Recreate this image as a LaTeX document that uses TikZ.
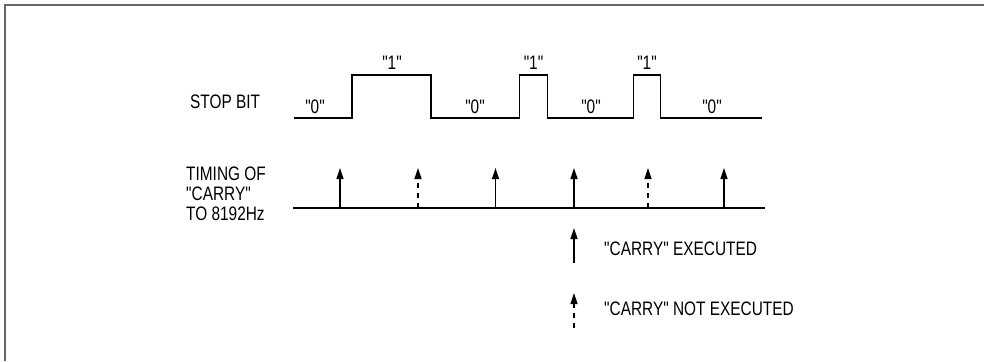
\documentclass[tikz,border=0pt]{standalone}
\usepackage{fontspec}
\setmainfont[FakeStretch=0.79, Ligatures=TeXOff]{Liberation Sans}
\usepackage{tikz}
\usetikzlibrary{positioning}
\usetikzlibrary{arrows.meta}

\tikzset{
	frame/.style={line width=2pt, draw=black!60},
	wave/.style={line width=1.6pt, line join=miter},
	carry/.style={line width=1.3pt, -{Triangle[length=11pt,width=7pt]}},
	skipped/.style={carry, dash pattern=on 5pt off 5pt},
	lbl/.style={inner sep=0pt, font=\fontsize{19.5}{20}\selectfont},
}

\begin{document}
\begin{tikzpicture}[x=1pt, y=-1pt]

	% ------------------------------------------------
	% Ensure the dimensions of graphic are appropriate
	\useasboundingbox (0,0) rectangle (984,361);

	% ------------------------------------------------
	% Frame (open to the right and bottom)
	\coordinate (FrameBot)    at (5,361);
	\coordinate (FrameCorner) at (5,5);
	\coordinate (FrameEnd)    at (984,5);
	\draw[frame] (FrameBot) -- (FrameCorner) -- (FrameEnd);

	% ------------------------------------------------
	% Stop bit waveform
	\coordinate (Beg) at (294,118);
	\coordinate (R1)  at (352,118);
	\coordinate (F1)  at (431,118);
	\coordinate (R2)  at (519.5,118);
	\coordinate (F2)  at (547.5,118);
	\coordinate (R3)  at (633.5,118);
	\coordinate (F3)  at (660.5,118);
	\coordinate (End) at (762,118);

	\draw[wave] (Beg) -- (R1) -- ++(0,-43) -| (F1)
		-- (R2) -- ++(0,-43) -| (F2)
		-- (R3) -- ++(0,-43) -| (F3) -- (End);

	\node[lbl, anchor=base west] (StopBit) at (190,108) {STOP BIT};

	% ----------------
	% Bit labels
	\node[lbl, anchor=base] (Zero1) at (315,113) {"0"};
	\node[lbl, anchor=base] (One1)  at (392,70)  {"1"};
	\node[lbl, anchor=base] (Zero2) at (475,113) {"0"};
	\node[lbl, anchor=base] (One2)  at (533.5,70) {"1"};
	\node[lbl, anchor=base] (Zero3) at (591,113) {"0"};
	\node[lbl, anchor=base] (One3)  at (647,70)  {"1"};
	\node[lbl, anchor=base] (Zero4) at (712,113) {"0"};

	% ------------------------------------------------
	% Timing of carry
	\node[lbl, anchor=base west] (TimingA) at (186,180) {TIMING OF};
	\node[lbl, anchor=base west] (TimingB) at (186,200) {"CARRY"};
	\node[lbl, anchor=base west] (TimingC) at (186,220) {TO 8192Hz};

	\coordinate (TBeg) at (293,208);
	\coordinate (TEnd) at (765,208);
	\draw[line width=1.6pt] (TBeg) -- (TEnd);

	\foreach \x/\s [count=\i] in {340/carry, 418/skipped, 495.5/carry, 574/carry, 648/skipped, 724/carry}{
		\coordinate (T\i) at (\x,208);
		\path (T\i) +(0,-40) coordinate (Tip\i);
		\draw[\s] (T\i) -- (Tip\i);
	}

	% ------------------------------------------------
	% Legend
	\coordinate (ExeBot)   at (574,263);
	\coordinate (ExeTop)   at (574,228);
	\coordinate (NotBot)   at (574,328);
	\coordinate (NotTop)   at (574,293);

	\draw[carry]   (ExeBot) -- (ExeTop);
	\draw[skipped] (NotBot) -- (NotTop);

	\node[lbl, anchor=base west] (ExeText) at (604,255) {"CARRY" EXECUTED};
	\node[lbl, anchor=base west] (NotText) at (604,315) {"CARRY" NOT EXECUTED};

\end{tikzpicture}
\end{document}
